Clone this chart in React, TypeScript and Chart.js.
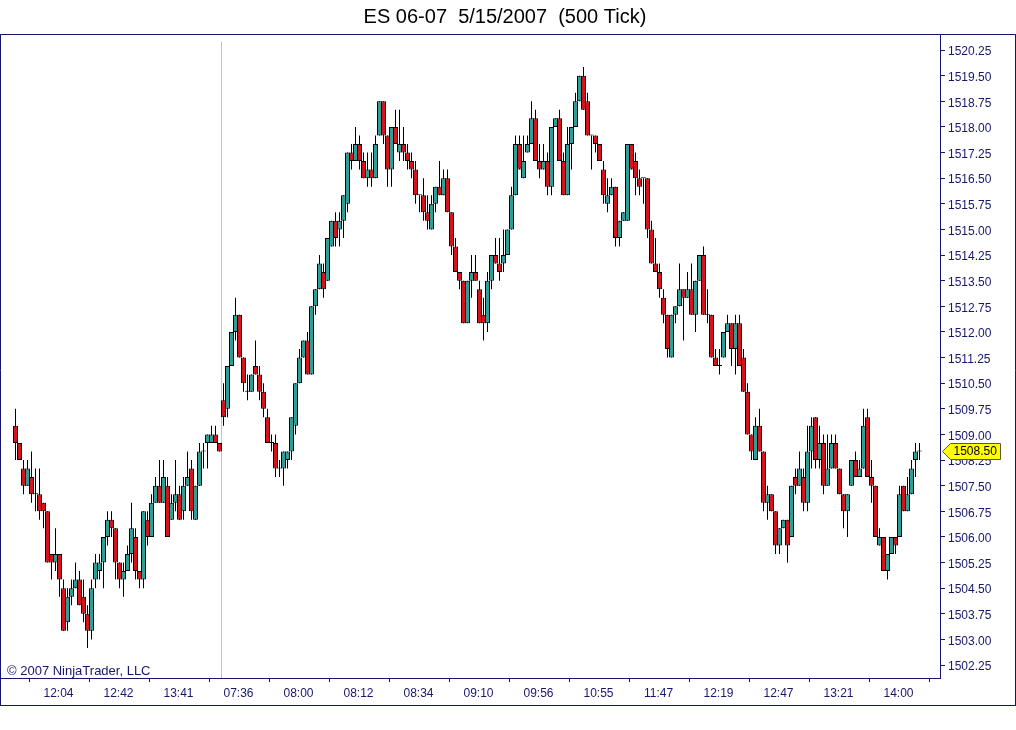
import { useEffect, useRef } from "react";
import { Chart, registerables } from "chart.js";

Chart.register(...registerables);

// ---- Data (500 tick bars, ES 06-07, 5/15/2007) ----
const opens = [
  1509.25, 1508.75, 1508.0, 1507.5, 1507.75, 1507.25, 1507.25, 1507.0, 1506.75, 1505.5,
  1505.25, 1505.5, 1504.5, 1503.5, 1504.25, 1504.5, 1504.75, 1504.25, 1503.75, 1503.25,
  1504.75, 1505.0, 1505.25, 1506.0, 1506.5, 1506.25, 1505.25, 1504.75, 1505.0, 1505.5,
  1506.0, 1505.0, 1504.75, 1506.5, 1506.0, 1507.0, 1507.5, 1507.0, 1507.5, 1506.5,
  1507.0, 1507.25, 1506.75, 1507.5, 1508.0, 1506.5, 1507.5, 1508.5, 1508.75, 1508.75,
  1509.0, 1508.75, 1510.0, 1509.75, 1511.0, 1512.0, 1512.5, 1511.25, 1510.25, 1510.25,
  1511.0, 1510.75, 1510.25, 1509.5, 1508.75, 1508.75, 1508.0, 1508.0, 1508.25, 1508.5,
  1509.25, 1510.5, 1511.25, 1511.75, 1510.75, 1512.75, 1513.25, 1513.75, 1513.5, 1514.5,
  1515.25, 1515.0, 1515.25, 1515.75, 1517.25, 1517.0, 1517.5, 1517.0, 1516.5, 1516.75,
  1516.5, 1517.75, 1518.75, 1517.75, 1516.75, 1518.0, 1517.25, 1517.5, 1517.25, 1517.0,
  1516.75, 1516.0, 1516.0, 1515.5, 1515.0, 1515.75, 1516.25, 1516.0, 1516.5, 1515.5,
  1514.5, 1513.75, 1513.5, 1512.25, 1513.5, 1513.75, 1513.25, 1512.5, 1512.25, 1513.5,
  1514.25, 1514.0, 1514.0, 1514.25, 1515.0, 1516.0, 1517.5, 1516.5, 1517.25, 1517.5,
  1518.25, 1517.0, 1516.75, 1517.0, 1516.25, 1518.0, 1518.25, 1517.0, 1516.0, 1517.5,
  1518.0, 1518.75, 1519.5, 1518.75, 1517.75, 1517.75, 1517.5, 1516.75, 1515.75, 1516.0,
  1516.25, 1514.75, 1515.25, 1515.25, 1517.5, 1517.0, 1516.5, 1516.5, 1516.5, 1515.0,
  1514.0, 1513.75, 1513.0, 1512.5, 1511.25, 1512.5, 1512.75, 1513.25, 1513.0, 1513.25,
  1512.5, 1513.5, 1514.25, 1512.5, 1512.5, 1511.25, 1511.0, 1511.25, 1512.0, 1512.25,
  1511.5, 1512.25, 1511.25, 1510.25, 1509.0, 1508.25, 1509.25, 1508.5, 1507.0, 1507.25,
  1506.75, 1505.75, 1506.25, 1506.5, 1506.0, 1507.75, 1507.5, 1507.75, 1507.0, 1508.5,
  1509.5, 1508.25, 1508.75, 1507.5, 1508.0, 1508.75, 1508.0, 1507.25, 1506.75, 1507.5,
  1508.25, 1507.75, 1508.0, 1509.5, 1507.75, 1507.5, 1505.75, 1506.0, 1505.0, 1505.5,
  1506.0, 1506.0, 1507.5, 1506.75, 1507.25, 1508.25, 1508.5,
];

const highs = [
  1509.75, 1508.75, 1508.25, 1508.25, 1508.5, 1508.0, 1508.0, 1507.0, 1506.75, 1505.5,
  1506.25, 1505.5, 1504.75, 1504.5, 1504.75, 1505.25, 1505.0, 1504.75, 1504.0, 1504.75,
  1505.5, 1505.5, 1506.0, 1506.75, 1506.75, 1506.25, 1505.25, 1505.25, 1505.75, 1507.0,
  1506.25, 1505.0, 1506.75, 1506.75, 1507.25, 1507.75, 1508.25, 1508.25, 1507.75, 1507.25,
  1508.25, 1507.5, 1507.75, 1508.5, 1508.25, 1507.5, 1508.75, 1508.75, 1509.0, 1509.25,
  1509.25, 1508.75, 1510.5, 1511.0, 1512.0, 1513.0, 1512.5, 1511.25, 1510.75, 1510.75,
  1511.75, 1511.0, 1510.5, 1509.75, 1509.0, 1509.0, 1508.25, 1508.5, 1508.5, 1509.5,
  1510.5, 1511.5, 1511.75, 1512.0, 1512.75, 1513.25, 1514.25, 1514.0, 1514.75, 1515.25,
  1515.5, 1515.5, 1516.0, 1517.25, 1517.5, 1518.0, 1517.75, 1517.25, 1517.25, 1517.25,
  1517.75, 1518.75, 1518.75, 1517.75, 1518.0, 1518.5, 1518.5, 1518.0, 1517.5, 1517.25,
  1517.0, 1516.0, 1516.5, 1516.0, 1516.0, 1516.25, 1517.0, 1516.75, 1516.75, 1515.5,
  1514.75, 1513.75, 1513.5, 1513.5, 1514.25, 1514.25, 1513.5, 1513.0, 1513.75, 1514.25,
  1514.75, 1514.75, 1515.0, 1515.0, 1516.25, 1517.75, 1517.75, 1517.75, 1517.75, 1518.75,
  1518.5, 1517.5, 1517.5, 1517.25, 1518.0, 1518.25, 1518.5, 1517.25, 1518.0, 1518.0,
  1519.0, 1519.5, 1519.75, 1519.0, 1517.75, 1517.75, 1517.5, 1517.0, 1516.5, 1516.5,
  1516.25, 1515.25, 1515.5, 1517.5, 1517.5, 1517.25, 1516.75, 1516.5, 1516.5, 1515.25,
  1514.75, 1514.0, 1513.25, 1512.5, 1512.5, 1512.75, 1514.0, 1513.25, 1513.75, 1514.0,
  1513.5, 1514.25, 1514.5, 1513.25, 1512.5, 1511.5, 1511.5, 1512.0, 1512.5, 1512.25,
  1512.5, 1512.5, 1511.5, 1510.5, 1509.0, 1509.5, 1509.75, 1508.5, 1507.5, 1507.25,
  1506.75, 1506.25, 1506.5, 1506.5, 1507.5, 1508.0, 1508.5, 1508.0, 1509.25, 1509.5,
  1509.5, 1509.25, 1509.0, 1509.0, 1509.0, 1509.0, 1508.0, 1507.25, 1507.25, 1508.25,
  1508.5, 1508.25, 1509.75, 1509.75, 1508.25, 1507.5, 1506.25, 1506.0, 1505.5, 1506.0,
  1506.0, 1507.5, 1507.5, 1507.75, 1508.25, 1508.75, 1508.75,
];

const lows = [
  1508.25, 1508.25, 1507.25, 1507.5, 1507.0, 1506.75, 1506.5, 1506.25, 1505.25, 1504.75,
  1505.0, 1504.25, 1503.25, 1503.25, 1504.0, 1504.5, 1504.0, 1503.5, 1502.75, 1503.0,
  1504.5, 1504.75, 1504.5, 1505.75, 1506.0, 1504.75, 1504.5, 1504.25, 1505.0, 1505.25,
  1504.75, 1504.5, 1504.5, 1505.75, 1506.0, 1507.0, 1507.0, 1507.0, 1506.0, 1506.5,
  1506.75, 1506.5, 1506.5, 1507.5, 1506.5, 1506.5, 1507.5, 1508.0, 1508.0, 1508.75,
  1508.75, 1508.5, 1509.25, 1509.5, 1511.0, 1511.75, 1511.25, 1510.25, 1510.0, 1510.25,
  1510.75, 1510.0, 1509.5, 1508.75, 1508.5, 1507.75, 1507.75, 1507.5, 1508.0, 1508.25,
  1509.0, 1510.5, 1511.25, 1510.75, 1510.75, 1512.5, 1513.25, 1513.0, 1513.5, 1514.5,
  1514.5, 1514.5, 1514.75, 1515.5, 1516.75, 1517.0, 1516.75, 1516.5, 1516.25, 1516.25,
  1516.5, 1517.75, 1517.5, 1516.25, 1516.25, 1517.5, 1517.0, 1517.0, 1516.75, 1516.5,
  1515.75, 1515.5, 1515.25, 1515.0, 1515.0, 1515.5, 1516.0, 1516.0, 1515.5, 1514.25,
  1513.75, 1513.25, 1512.25, 1512.25, 1513.0, 1513.5, 1512.25, 1511.75, 1512.0, 1513.25,
  1514.0, 1513.5, 1513.75, 1514.25, 1515.0, 1516.0, 1516.75, 1516.5, 1517.25, 1517.5,
  1517.0, 1516.5, 1516.75, 1516.0, 1516.0, 1518.0, 1517.0, 1516.0, 1516.0, 1516.75,
  1518.0, 1518.75, 1518.5, 1517.75, 1516.75, 1517.25, 1517.0, 1515.75, 1515.5, 1516.0,
  1514.5, 1514.5, 1515.25, 1515.25, 1516.75, 1516.0, 1516.0, 1515.75, 1514.75, 1514.0,
  1513.75, 1513.0, 1512.25, 1511.25, 1511.25, 1512.25, 1512.75, 1511.75, 1513.0, 1512.5,
  1512.0, 1513.5, 1512.5, 1512.25, 1511.25, 1511.0, 1510.75, 1511.25, 1512.0, 1511.0,
  1510.75, 1511.0, 1510.25, 1509.0, 1508.25, 1508.25, 1508.5, 1506.75, 1506.5, 1506.75,
  1505.5, 1505.5, 1506.25, 1505.25, 1506.0, 1507.25, 1507.5, 1506.75, 1506.75, 1508.0,
  1508.0, 1508.0, 1507.25, 1507.5, 1508.0, 1508.0, 1507.25, 1506.25, 1506.0, 1507.5,
  1507.75, 1507.75, 1508.0, 1507.75, 1507.0, 1506.0, 1505.75, 1505.0, 1504.75, 1505.5,
  1505.5, 1506.0, 1506.75, 1506.75, 1507.25, 1507.75, 1508.25,
];

const closes = [
  1508.75, 1508.25, 1507.5, 1508.0, 1507.25, 1507.25, 1506.75, 1506.75, 1505.25, 1505.25,
  1505.5, 1504.75, 1503.25, 1504.25, 1504.5, 1504.75, 1504.0, 1503.75, 1503.25, 1504.5,
  1505.25, 1505.25, 1506.0, 1506.5, 1506.25, 1505.25, 1504.75, 1505.0, 1505.5, 1506.25,
  1505.0, 1504.75, 1506.75, 1506.0, 1507.0, 1507.5, 1507.0, 1507.75, 1506.0, 1507.0,
  1507.25, 1506.5, 1507.5, 1507.75, 1506.75, 1507.5, 1508.5, 1508.5, 1509.0, 1509.0,
  1508.75, 1508.5, 1509.5, 1511.0, 1512.0, 1512.5, 1511.25, 1510.5, 1510.25, 1510.75,
  1510.75, 1510.25, 1509.75, 1508.75, 1508.75, 1508.0, 1508.0, 1508.5, 1508.5, 1509.5,
  1510.5, 1511.25, 1511.75, 1510.75, 1512.75, 1513.25, 1514.0, 1513.25, 1514.75, 1515.25,
  1514.75, 1515.25, 1516.0, 1517.25, 1517.0, 1517.5, 1517.0, 1516.5, 1516.75, 1516.5,
  1517.5, 1518.75, 1517.75, 1516.75, 1518.0, 1517.5, 1517.5, 1517.25, 1517.0, 1516.75,
  1516.0, 1516.0, 1515.5, 1515.25, 1515.75, 1516.25, 1516.0, 1516.5, 1515.5, 1514.5,
  1513.75, 1513.5, 1512.25, 1513.5, 1513.75, 1513.5, 1512.25, 1512.25, 1513.5, 1514.25,
  1514.0, 1513.75, 1514.25, 1515.0, 1516.0, 1517.5, 1516.75, 1517.0, 1517.5, 1518.25,
  1517.0, 1516.75, 1517.0, 1516.25, 1518.0, 1518.25, 1517.0, 1516.0, 1517.5, 1518.0,
  1518.75, 1519.5, 1518.5, 1517.75, 1517.75, 1517.5, 1517.0, 1516.0, 1516.0, 1516.25,
  1514.75, 1515.25, 1515.5, 1517.5, 1516.75, 1516.5, 1516.25, 1516.5, 1515.0, 1514.0,
  1513.75, 1513.25, 1512.5, 1511.5, 1512.5, 1512.75, 1513.25, 1513.0, 1513.25, 1512.5,
  1513.5, 1514.25, 1512.5, 1512.5, 1511.25, 1511.0, 1511.0, 1512.0, 1512.25, 1511.5,
  1512.25, 1511.0, 1510.25, 1509.0, 1508.5, 1509.25, 1508.5, 1507.0, 1507.25, 1506.75,
  1505.75, 1506.25, 1506.5, 1505.75, 1507.5, 1507.5, 1508.0, 1507.0, 1508.5, 1509.25,
  1508.25, 1508.75, 1507.5, 1508.0, 1508.75, 1508.0, 1507.25, 1506.75, 1507.25, 1508.25,
  1507.75, 1508.0, 1509.25, 1507.75, 1507.5, 1506.0, 1506.0, 1505.0, 1505.5, 1506.0,
  1505.75, 1507.25, 1506.75, 1507.25, 1508.0, 1508.5, 1508.5,
];

// Time-axis labels and the bar (0-based) each one sits under
const xTickBars = [11, 26, 41, 56, 71, 86, 101, 116, 131, 146, 161, 176, 191, 206, 221];
const xTickLabels = [
  "12:04", "12:42", "13:41", "07:36", "08:00", "08:12", "08:34", "09:10",
  "09:56", "10:55", "11:47", "12:19", "12:47", "13:21", "14:00",
];

// First bar of the new session (0-based)
const sessionStartBar = 52;

const titleText = "ES 06-07  5/15/2007  (500 Tick)";
const copyrightText = "\u00A9 2007 NinjaTrader, LLC";
const yMin = 1501.87;
const yMax = 1520.69;
const yStep = 0.75;

const UP = "#2F9E97";
const DOWN = "#D3141C";
const NAVY = "#16166E";
const FONT = "'Liberation Sans', Arial, sans-serif";

export default function App() {
  const canvasRef = useRef<HTMLCanvasElement | null>(null);

  useEffect(() => {
    const canvas = canvasRef.current;
    if (!canvas) return;

    const bodies = opens.map((o, i) => ({ x: i, y: [o, closes[i]] }));
    const wicks = opens.map((_, i) => ({ x: i, y: [lows[i], highs[i]] }));
    const bodyColors = opens.map((o, i) => (closes[i] >= o ? UP : DOWN));
    const lastClose = closes[closes.length - 1];

    const decor = {
      id: "decor",
      beforeDatasetsDraw(chart: any) {
        const { ctx, chartArea, scales } = chart;
        const x = scales.x.getPixelForValue(sessionStartBar - 0.5);
        ctx.save();
        ctx.strokeStyle = "#C4C4C4";
        ctx.lineWidth = 1;
        ctx.beginPath();
        ctx.moveTo(Math.floor(x) + 0.5, chartArea.top + 7);
        ctx.lineTo(Math.floor(x) + 0.5, chartArea.bottom);
        ctx.stroke();
        ctx.restore();
      },
      afterDraw(chart: any) {
        const { ctx, chartArea, scales, width } = chart;
        const top = Math.round(chartArea.top) - 0.5;
        ctx.save();
        // frame
        ctx.strokeStyle = NAVY;
        ctx.lineWidth = 1;
        ctx.beginPath();
        ctx.moveTo(0, top);
        ctx.lineTo(width, top);
        ctx.moveTo(0.5, top);
        ctx.lineTo(0.5, 706);
        ctx.moveTo(width - 0.5, top);
        ctx.lineTo(width - 0.5, 706);
        ctx.moveTo(0, 705.5);
        ctx.lineTo(width, 705.5);
        ctx.moveTo(0, chartArea.bottom + 0.5);
        ctx.lineTo(chartArea.right, chartArea.bottom + 0.5);
        ctx.stroke();

        // copyright
        ctx.fillStyle = NAVY;
        ctx.font = `13px ${FONT}`;
        ctx.textBaseline = "bottom";
        ctx.textAlign = "left";
        ctx.fillText(copyrightText, chartArea.left + 5, chartArea.bottom);

        // last price tag
        const y = Math.round(scales.y.getPixelForValue(lastClose)) + 0.5;
        const x0 = chartArea.right + 2.5;
        const h = 8;
        ctx.beginPath();
        ctx.moveTo(x0, y);
        ctx.lineTo(x0 + 8, y - h);
        ctx.lineTo(x0 + 58, y - h);
        ctx.lineTo(x0 + 58, y + h);
        ctx.lineTo(x0 + 8, y + h);
        ctx.closePath();
        ctx.fillStyle = "#FFFF00";
        ctx.fill();
        ctx.strokeStyle = "#5A5A3A";
        ctx.stroke();
        ctx.fillStyle = "#000000";
        ctx.font = `12px ${FONT}`;
        ctx.textBaseline = "middle";
        ctx.fillText(lastClose.toFixed(2), x0 + 11, y + 0.5);
        ctx.restore();
      },
    };

    const chart = new Chart(canvas, {
      type: "bar",
      data: {
        datasets: [
          {
            label: "wicks",
            data: wicks as any,
            backgroundColor: "#000000",
            borderWidth: 0,
            barThickness: 1,
            grouped: false,
            order: 1,
            inflateAmount: 0,
          } as any,
          {
            label: "bodies",
            data: bodies as any,
            backgroundColor: bodyColors,
            borderColor: "#000000",
            borderWidth: 1,
            borderSkipped: false,
            barThickness: 5,
            minBarLength: 1,
            grouped: false,
            order: 0,
            inflateAmount: 0,
          } as any,
        ],
      },
      options: {
        animation: false,
        responsive: false,
        events: [],
        layout: { padding: { left: 2, right: 8, top: 0, bottom: 28 } },
        plugins: {
          legend: { display: false },
          tooltip: { enabled: false },
          title: {
            display: true,
            text: titleText,
            color: "#000000",
            font: { family: FONT, size: 20, weight: "normal", lineHeight: 1.2 },
            padding: { top: 5, bottom: 6 },
          },
        },
        scales: {
          x: {
            type: "linear",
            min: -3.375,
            max: 231.125,
            offset: false,
            afterBuildTicks: (scale: any) => {
              scale.ticks = xTickBars.map((v) => ({ value: v }));
            },
            afterFit: (scale: any) => {
              scale.height = 24;
            },
            ticks: {
              autoSkip: false,
              maxRotation: 0,
              color: NAVY,
              font: { family: FONT, size: 12 },
              padding: 4,
              labelOffset: -1,
              callback: (_v: any, i: number) => xTickLabels[i],
            },
            grid: {
              display: true,
              drawOnChartArea: false,
              drawTicks: true,
              tickLength: 4,
              color: NAVY,
            },
            border: { display: true, color: NAVY },
          },
          y: {
            type: "linear",
            position: "right",
            min: yMin,
            max: yMax,
            afterFit: (scale: any) => {
              scale.width = 68;
            },
            ticks: {
              stepSize: yStep,
              includeBounds: false,
              color: NAVY,
              font: { family: FONT, size: 12 },
              padding: 3,
              labelOffset: 2,
              callback: (v: any) => Number(v).toFixed(2),
            },
            grid: {
              display: true,
              drawOnChartArea: false,
              drawTicks: true,
              tickLength: 5,
              color: NAVY,
            },
            border: { display: true, color: NAVY },
          },
        },
      } as any,
      plugins: [decor],
    });

    return () => chart.destroy();
  }, []);

  return (
    <div style={{ position: "absolute", left: 0, top: 0, width: 1016, height: 730, background: "#FFFFFF" }}>
      <canvas ref={canvasRef} width={1016} height={730} style={{ display: "block" }} />
    </div>
  );
}
